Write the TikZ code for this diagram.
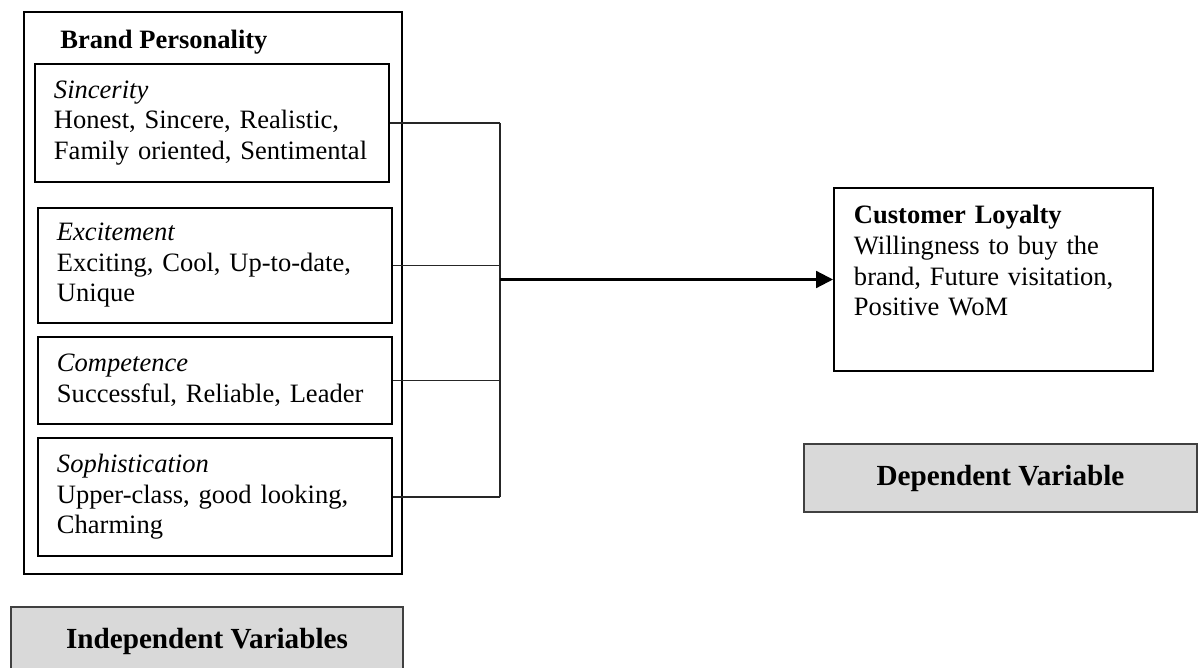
\documentclass[tikz,border=0pt]{standalone}
\usepackage{fontspec}
\setmainfont{Liberation Serif}
\usetikzlibrary{arrows.meta}
\newlength\pxu
\setlength\pxu{0.0159cm}
\definecolor{labelgray}{HTML}{D9D9D9}
\tikzset{
  frame/.style={draw, line width=0.9pt, anchor=north west, inner sep=0pt},
  trait/.style={draw, line width=0.9pt, anchor=north west, text width=316\pxu, inner xsep=19\pxu, inner ysep=0pt, align=left},
  varbox/.style={draw=black!75, line width=0.9pt, fill=labelgray, anchor=north west, font=\fontsize{13.2pt}{15pt}\selectfont\bfseries},
  link/.style={draw=black!85, line width=0.6pt},
  flow/.style={line width=1pt, -{Triangle[length=7.6pt, width=7.6pt]}}
}
\begin{document}
\begin{tikzpicture}[x=\pxu, y=-\pxu, font=\fontsize{12pt}{13.8pt}\selectfont]
	\useasboundingbox (0,0) rectangle (1202,668);
	\node[frame, minimum width=378\pxu, minimum height=562\pxu] (brand) at (23,11) {};
	\node[font=\fontsize{12pt}{13.8pt}\selectfont\bfseries, anchor=base west, inner sep=0pt] (title) at (60,48) {Brand Personality};
	\node[trait, minimum height=118\pxu] (sinc) at (34,63) {\textit{Sincerity}\\Honest, Sincere, Realistic,\\Family oriented, Sentimental};
	\node[trait, minimum height=115\pxu] (excite) at (37,207) {\textit{Excitement}\\Exciting, Cool, Up-to-date,\\Unique};
	\node[trait, minimum height=87\pxu] (comp) at (37,336) {\textit{Competence}\\Successful, Reliable, Leader};
	\node[trait, minimum height=118\pxu] (soph) at (37,437) {\textit{Sophistication}\\Upper-class, good looking,\\Charming};
	\node[trait, text width=279\pxu, inner xsep=20\pxu, text height=36\pxu, text depth=147\pxu] (loyal) at (833,187) {\textbf{Customer Loyalty}\\Willingness to buy the\\brand, Future visitation,\\Positive WoM};
	\node[varbox, minimum width=392\pxu, minimum height=68\pxu] (indep) at (10,606) {Independent Variables};
	\node[varbox, minimum width=393\pxu, minimum height=68\pxu] (dep) at (803,443) {Dependent Variable};
	\coordinate (bus) at (500,0);
	\foreach \n in {sinc,excite,comp,soph}
		\draw[link] (\n.east) -- (\n.east -| bus);
	\draw[link] (sinc.east -| bus) -- (soph.east -| bus);
	\draw[flow] (loyal.west -| bus) -- (loyal.west);
\end{tikzpicture}
\end{document}
